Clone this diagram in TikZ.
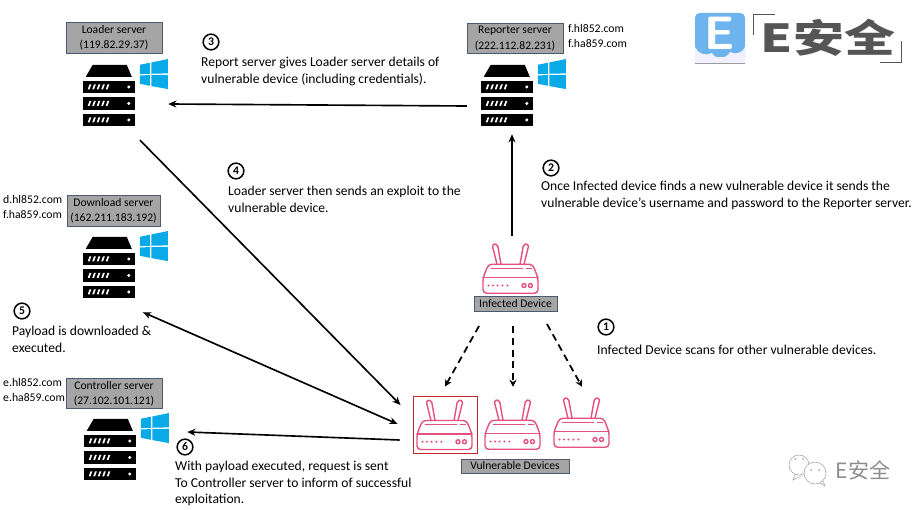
\documentclass[tikz,border=0pt]{standalone}
\usepackage{graphicx}
\usepackage{fontspec}
\setmainfont{Carlito}
\newfontfamily\cjk{Noto Sans CJK SC}
\usetikzlibrary{arrows.meta,calc}
\definecolor{routerpink}{HTML}{E5507E}
\definecolor{labelgray}{HTML}{A5A5A5}
\definecolor{labelline}{HTML}{4A5B70}
\definecolor{winblue}{HTML}{0AA9E8}
\definecolor{logoblue}{HTML}{6DB4EE}
\definecolor{logogray}{HTML}{555555}
\definecolor{boxred}{HTML}{C0282E}
\tikzset{
    srvlabel/.style={draw=labelline,fill=labelgray,line width=0.7pt,inner sep=0pt,align=center,
        minimum width=2.88cm,minimum height=0.91cm,font=\fontsize{9.9}{13}\selectfont},
    devlabel/.style={draw=labelline,fill=labelgray,line width=0.7pt,inner sep=0pt,align=center,
        minimum height=0.46cm,font=\fontsize{9.9}{11}\selectfont},
    dnstext/.style={anchor=north west,inner sep=0pt,align=left,font=\fontsize{10}{12.6}\selectfont},
    notetext/.style={anchor=north west,inner sep=0pt,align=left,font=\fontsize{11.6}{14}\selectfont},
    numcirc/.style={draw,circle,line width=1.3pt,inner sep=0pt,minimum size=0.47cm,font=\fontsize{10}{10}\bfseries\selectfont},
    iconbox/.style={inner sep=0pt,minimum width=2.55cm,minimum height=2.1cm},
    routerbox/.style={inner sep=0pt,minimum width=1.65cm,minimum height=1.5cm},
    solidarrow/.style={line width=1.4pt,-{Stealth[length=7pt,width=6pt]}},
    dasharrow/.style={line width=1.5pt,dash pattern=on 6pt off 4pt,-{Stealth[length=6pt,width=6pt]}},
    serverico/.pic={
        \fill (3,-12) -- (10,0) -- (44,0) -- (49,-12) -- cycle;
        \foreach \r in {-16,-32.5,-49} {
            \fill (0,\r) rectangle (52,\r-12.5);
            \foreach \t in {5,9.5,14,18.5,23}
                \fill [white] (\t,\r-8.5) -- (\t+1.8,\r-8.5) -- (\t+3.6,\r-3.5) -- (\t+1.8,\r-3.5) -- cycle;
            \fill [white] (46,\r-6.2) circle (1.7);
        }
        \fill [winblue] (57,0) -- (67,2) -- (67,-9) -- (57,-9.2) -- cycle;
        \fill [winblue] (68.5,2.3) -- (85,5.7) -- (85,-8.6) -- (68.5,-9) -- cycle;
        \fill [winblue] (57,-10.6) -- (67,-10.4) -- (67,-21) -- (57,-19) -- cycle;
        \fill [winblue] (68.5,-10.4) -- (85,-10) -- (85,-24.3) -- (68.5,-21.3) -- cycle;
    },
    routerico/.pic={
        \begin{scope}[routerpink,line width=1.2pt,line join=round,line cap=round]
        \draw [rounded corners=3pt] (-27.5,15.5) -- (-27.5,0) -- (27.5,0) -- (27.5,15.5) -- (22,29) -- (-22,29) -- cycle;
        \draw (-27.5,15.5) -- (27.5,15.5);
        \draw (-13.5,29) -- (-18,47) arc (170:10:2.7) -- (-9.5,29);
        \draw (13.5,29) -- (18,47) arc (10:170:2.7) -- (9.5,29);
        \draw (-19,25) -- (12,25);
        \draw (16,25) -- (21,25);
        \foreach \t in {-22,-17.5,-13,-8,-3}
            \fill (\t,7.7) circle (1.1);
        \draw (13.5,7.7) circle (2);
        \draw (20,7.7) circle (2);
        \end{scope}
    }
}
\begin{document}
\begin{tikzpicture}[x=0.03cm,y=0.03cm]
    \useasboundingbox (0,0) rectangle (922,-510);
    % servers
    \node (loadericon) [iconbox] at (125.5,-93) {};
    \node (reporticon) [iconbox] at (523.5,-93) {};
    \node (downicon) [iconbox] at (125.5,-265) {};
    \node (ctrlicon) [iconbox] at (126.5,-448) {};
    \pic at ($(loadericon.north west)+(0,-7)$) {serverico};
    \pic at ($(reporticon.north west)+(0,-7)$) {serverico};
    \pic at ($(downicon.north west)+(0,-7)$) {serverico};
    \pic at ($(ctrlicon.north west)+(0,-6)$) {serverico};
    \node (loaderlabel) [srvlabel] at (114,-38) {Loader server\\(119.82.29.37)};
    \node (reportlabel) [srvlabel] at (515,-38.5) {Reporter server\\(222.112.82.231)};
    \node (downlabel) [srvlabel,minimum width=2.79cm] at (113.5,-211) {Download server\\(162.211.183.192)};
    \node (ctrllabel) [srvlabel] at (114,-393.5) {Controller server\\(27.102.101.121)};
    \node (reportdns) [dnstext] at (568,-24) {f.hl852.com\\f.ha859.com};
    \node (downdns) [dnstext] at (3,-195) {d.hl852.com\\f.ha859.com};
    \node (ctrldns) [dnstext] at (3,-378) {e.hl852.com\\e.ha859.com};
    % routers
    \node (infected) [routerbox] at (510.5,-268) {};
    \node (vulnbox) [draw=boxred,line width=0.8pt,inner sep=0pt,minimum width=1.92cm,minimum height=1.71cm] at (445,-424.5) {};
    \node (vulnb) [routerbox] at (512.5,-424) {};
    \node (vulnc) [routerbox] at (581.5,-422) {};
    \pic at ($(vulnbox.south)+(-0.5,4)$) {routerico};
    \pic at (infected.south) {routerico};
    \pic at (vulnb.south) {routerico};
    \pic at (vulnc.south) {routerico};
    \node (infectedlabel) [devlabel,minimum width=2.49cm] at (515.5,-304) {Infected Device};
    \node (vulnlabel) [devlabel,minimum width=3.24cm,minimum height=0.42cm] at (515,-466) {Vulnerable Devices};
    % connectors
    \draw [solidarrow] ($(reporticon.west)+(-14,-13)$) -- ($(loadericon.east)+(0,-11)$);
    \draw [solidarrow] ($(infected.north)+(1.5,7)$) -- ($(reporticon.south)+(-11.5,-6)$);
    \draw [solidarrow] ($(loadericon.south)+(14.5,-12)$) -- ($(vulnbox.west)+(-12,19.5)$);
    \draw [solidarrow,{Stealth[length=7pt,width=6pt]}-{Stealth[length=7pt,width=6pt]}] ($(downicon.south)+(17.5,-12)$) -- ($(vulnbox.west)+(-15,0.5)$);
    \draw [solidarrow] ($(vulnbox.west)+(-13,-15.5)$) -- ($(ctrlicon.east)+(18,16)$);
    \draw [dasharrow] ($(infectedlabel.south)+(-36.5,-14)$) -- ($(vulnbox.north)+(0,9)$);
    \draw [dasharrow] ($(infectedlabel.south)+(-2.5,-14)$) -- ($(vulnb.north)+(0.5,12)$);
    \draw [dasharrow] ($(infectedlabel.south)+(31.5,-12)$) -- ($(vulnc.north)+(0.5,10)$);
    % numbered notes
    \node (numone) [numcirc] at (606,-327) {1};
    \node (numtwo) [numcirc] at (551,-168) {2};
    \node (numthree) [numcirc] at (211,-42) {3};
    \node (numfour) [numcirc] at (236,-171) {4};
    \node (numfive) [numcirc] at (22,-311) {5};
    \node (numsix) [numcirc] at (185,-447) {6};
    \node (noteone) [notetext] at (597,-345) {Infected Device scans for other vulnerable devices.};
    \node (notetwo) [notetext] at (541,-181) {Once Infected device finds a new vulnerable device it sends the\\vulnerable device’s username and password to the Reporter server.};
    \node (notethree) [notetext] at (201,-57) {Report server gives Loader server details of\\vulnerable device (including credentials).};
    \node (notefour) [notetext] at (228,-186) {Loader server then sends an exploit to the\\vulnerable device.};
    \node (notefive) [notetext] at (12,-326) {Payload is downloaded \&\\executed.};
    \node (notesix) [notetext] at (175,-461) {With payload executed, request is sent\\To Controller server to inform of successful\\exploitation.};
    % logo
    \fill [logoblue,rounded corners=4pt] (695,-63) -- (695,-13) -- (745,-13) -- (745,-63) -- cycle;
    \fill [blue!6] (695,-63) -- (695,-47) to [bend right=50] (712,-53) to [bend right=40] (720,-57) to [bend right=40] (730,-52) to [bend right=50] (745,-47) -- (745,-63) -- cycle;
    \draw [logogray!60,line width=0.8pt] (695,-63) -- (745,-63);
    \node (logoe) [inner sep=0pt,white,font=\fontsize{40}{40}\bfseries\sffamily\selectfont] at (720,-33) {E};
    \draw [logogray,line width=0.7pt] (775,-14) -- (753,-14) -- (753,-35);
    \draw [logogray,line width=0.7pt] (880,-62) -- (901,-62) -- (901,-41);
    \node (logotext) [inner sep=0pt,logogray,font=\fontsize{30}{30}\cjk\bfseries\selectfont] at (828,-38) {\scalebox{1.45}[1.1]{E安全}};
    % watermark
    \draw [gray!70,line width=0.5pt] (799,-465) circle (10);
    \draw [gray!70,line width=0.5pt] (795,-475) -- (793,-480) -- (801,-476);
    \draw [gray!70,fill=white,line width=0.5pt] (815,-473) circle (11);
    \draw [gray!70,line width=0.5pt] (820,-483) -- (825,-486) -- (823,-481);
    \fill [gray!70] (795,-459) circle (1) (803,-459) circle (1) (811,-470) circle (1) (819,-470) circle (1);
    \node (marktext) [inner sep=0pt,gray!90,font=\fontsize{18}{18}\cjk\selectfont] at (863,-470) {E安全};
\end{tikzpicture}
\end{document}
